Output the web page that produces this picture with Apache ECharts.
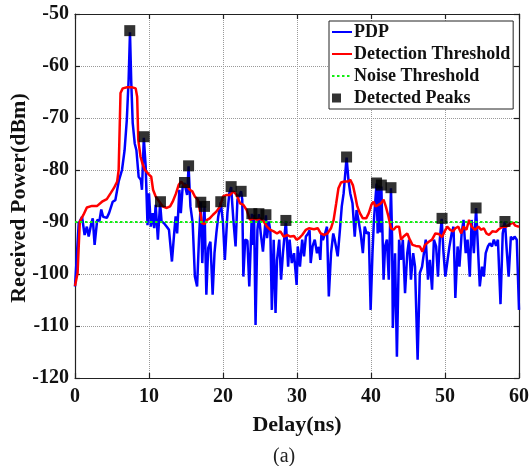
<!DOCTYPE html>
<html>
<head>
<meta charset="utf-8">
<script src="https://cdn.jsdelivr.net/npm/echarts@6/dist/echarts.min.js"></script>
<style>
html,body{margin:0;padding:0;background:#fff;}
#c{width:531px;height:466px;}
</style>
</head>
<body>
<div id="c"></div>
<script>
// ---- Data ----
const pdpDelay = [0,0.5,0.95,1.3,1.6,1.85,2.2,2.4,2.65,3.0,3.3,3.55,3.8,4.3,4.6,5.1,5.45,5.9,6.35,6.7,7.0,7.25,7.43,7.6,7.8,8.07,8.3,8.6,8.9,9.05,9.3,9.55,9.8,10.0,10.25,10.5,10.7,10.9,11.2,11.5,11.7,12.0,12.4,12.7,13.1,13.4,13.6,13.8,14.1,14.3,14.55,14.8,15.15,15.35,15.6,15.9,16.2,16.5,16.75,17.0,17.2,17.5,17.75,18.0,18.3,18.6,18.85,19.1,19.35,19.7,20.0,20.25,20.6,20.85,21.1,21.4,21.7,21.95,22.45,22.6,22.75,23.0,23.3,23.55,23.9,24.05,24.2,24.4,24.65,24.85,25.1,25.4,25.8,25.95,26.2,26.4,26.6,26.85,27.1,27.3,27.6,27.85,28.1,28.5,28.8,29.0,29.3,29.6,29.95,30.1,30.4,30.7,30.95,31.2,31.5,31.7,31.85,32.1,32.4,32.7,32.95,33.15,33.3,33.5,33.8,34.05,34.3,34.6,34.9,35.1,35.5,35.8,36.05,36.3,36.7,36.95,37.2,37.5,37.8,38.05,38.3,38.6,38.9,39.15,39.4,39.7,39.95,40.2,40.4,40.75,40.9,41.1,41.25,41.4,41.7,41.9,42.15,42.4,42.7,42.85,42.95,43.25,43.5,43.8,44.05,44.3,44.6,44.9,45.15,45.4,45.7,45.95,46.3,46.6,46.9,47.15,47.4,47.7,47.95,48.25,48.5,48.8,49.05,49.3,49.55,49.8,50.05,50.35,50.6,50.9,51.15,51.4,51.7,51.95,52.25,52.5,52.8,53.05,53.35,53.6,53.9,54.2,54.4,54.7,55.0,55.25,55.5,55.8,56.05,56.35,56.6,56.9,57.15,57.5,57.8,58.1,58.35,58.6,58.9,59.15,59.4,59.7,60.0];
const pdpPower = [-102.4,-90.3,-89.0,-92.5,-90.9,-92.8,-90.3,-89.3,-94.4,-89.6,-89.8,-87.6,-89.0,-89.2,-88.3,-86.1,-85.8,-82.2,-80.0,-76.2,-70.4,-62.5,-53.5,-63.0,-71.0,-74.9,-76.2,-81.3,-81.9,-83.8,-73.8,-79.3,-90.6,-84.5,-90.9,-88.3,-91.2,-86.7,-93.4,-86.3,-89.9,-90.2,-90.9,-91.5,-97.6,-92.2,-88.9,-92.2,-83.8,-88.3,-83.2,-82.5,-84.8,-79.3,-87.0,-90.2,-100.5,-102.4,-93.4,-86.2,-97.9,-87.0,-104.0,-95.0,-93.8,-104.0,-96.0,-92.2,-89.0,-86.2,-90.2,-97.3,-88.3,-84.5,-83.3,-89.6,-94.7,-85.7,-84.1,-85.7,-100.5,-93.4,-93.6,-102.4,-88.4,-94.4,-88.6,-109.8,-91.5,-88.5,-92.2,-95.7,-88.7,-93.1,-89.9,-91.8,-106.9,-93.4,-107.5,-97.3,-93.4,-101.1,-96.0,-89.8,-98.6,-93.4,-97.9,-96.0,-102.1,-94.7,-98.6,-93.4,-96.6,-92.8,-92.2,-91.6,-97.9,-94.7,-93.4,-96.0,-94.8,-97.3,-92.2,-93.5,-92.2,-90.9,-104.3,-96.0,-92.2,-93.4,-96.6,-91.5,-87.0,-84.5,-77.6,-81.9,-84.5,-86.4,-92.8,-87.7,-89.6,-92.2,-96.0,-90.9,-92.2,-92.0,-106.9,-96.0,-89.6,-82.6,-92.2,-83.0,-92.0,-83.2,-101.1,-94.7,-93.4,-101.1,-83.5,-93.0,-110.4,-96.0,-115.9,-93.4,-97.3,-93.4,-103.7,-96.0,-93.4,-101.1,-96.0,-98.6,-116.5,-99.8,-98.6,-96.0,-93.4,-101.1,-97.3,-103.0,-93.4,-94.7,-100.5,-93.4,-89.4,-96.0,-100.5,-97.3,-94.7,-92.2,-90.9,-104.6,-94.7,-98.6,-92.2,-89.6,-96.0,-93.4,-100.5,-89.6,-96.0,-87.3,-93.4,-102.4,-98.6,-100.5,-96.0,-94.7,-94.1,-94.7,-93.4,-94.6,-93.4,-105.8,-92.2,-89.9,-95.6,-100.5,-92.8,-93.4,-92.8,-93.4,-106.9];

const thrDelay = [0,0.35,0.65,1.15,1.6,2.3,3.0,3.65,4.3,4.8,5.25,5.7,5.9,6.15,6.45,7.05,7.75,8.2,8.4,8.55,8.85,9.1,9.45,10.0,10.3,10.55,10.9,11.4,11.85,12.4,12.85,13.2,13.65,14.0,14.35,14.8,15.1,15.5,15.85,16.2,16.6,16.95,17.15,17.5,17.85,18.2,18.65,19.1,19.6,20.0,20.5,20.95,21.4,21.85,22.3,22.75,23.2,23.65,24.1,24.6,25.05,25.5,25.95,26.4,26.85,27.3,27.75,28.2,28.7,29.1,29.6,29.95,30.3,30.7,31.2,31.6,32.3,32.8,33.2,33.7,34.1,34.6,34.95,35.3,35.6,35.95,36.4,36.9,37.2,37.55,37.8,38.15,38.5,38.9,39.35,39.7,40.05,40.35,40.6,41.0,41.35,41.7,42.0,42.35,42.7,43.05,43.4,43.8,44.05,44.4,44.9,45.25,45.6,46.05,46.6,46.95,47.3,47.8,48.25,48.7,49.15,49.6,49.95,50.3,50.7,51.1,51.4,51.8,52.2,52.5,52.9,53.25,53.6,54.05,54.5,54.9,55.25,55.6,55.95,56.4,56.9,57.25,57.8,58.25,58.7,59.15,59.5,60.0];
const thrPower = [-102.3,-99.8,-89.9,-88.6,-87.2,-86.9,-86.9,-86.1,-85.6,-84.5,-83.5,-82.2,-80.0,-65.2,-64.3,-64.1,-64.1,-64.3,-65.9,-74.2,-77.4,-78.7,-80.0,-80.9,-81.3,-83.8,-85.1,-86.1,-87.0,-87.3,-87.0,-86.1,-84.5,-82.9,-82.2,-83.2,-82.9,-83.8,-84.1,-85.1,-85.7,-88.3,-90.2,-90.4,-89.6,-89.3,-88.6,-88.0,-87.0,-85.1,-84.8,-84.8,-84.1,-84.8,-86.4,-86.7,-87.7,-89.6,-89.3,-89.6,-89.3,-89.9,-90.9,-91.5,-91.8,-92.2,-91.8,-92.8,-92.5,-92.8,-92.7,-93.4,-93.1,-92.5,-91.5,-91.2,-91.4,-91.2,-92.2,-92.5,-92.2,-91.2,-89.6,-86.4,-83.5,-82.4,-82.2,-82.2,-81.9,-82.9,-84.5,-87.0,-88.3,-89.3,-89.3,-88.3,-86.7,-86.1,-87.0,-86.7,-86.4,-85.7,-87.0,-88.9,-91.2,-91.5,-90.9,-90.9,-93.4,-92.8,-92.2,-93.4,-94.4,-94.6,-94.7,-95.7,-94.4,-93.8,-93.4,-92.2,-92.3,-92.9,-91.8,-90.9,-91.5,-91.8,-91.2,-90.9,-92.2,-90.9,-91.5,-89.6,-90.9,-91.5,-90.9,-91.5,-91.2,-92.2,-92.5,-91.8,-91.9,-91.4,-90.9,-90.9,-90.5,-90.1,-90.7,-90.9];

const noiseDelay = [0, 60];
const noisePower = [-90, -90];

const peakDelay = [7.4,9.35,11.55,14.8,15.35,17.0,17.5,19.7,21.1,22.45,23.9,24.85,25.8,28.5,36.7,40.75,41.4,42.7,49.6,54.2,58.1];
const peakPower = [-53.2,-73.6,-86.1,-82.4,-79.2,-86.2,-87.0,-86.1,-83.2,-84.1,-88.4,-88.4,-88.6,-89.7,-77.5,-82.5,-82.9,-83.4,-89.3,-87.3,-89.9];

const xTicks = {min: 0, max: 60, interval: 10};
const yTicks = {min: -120, max: -50, interval: 10};

const seriesNames = ['PDP', 'Detection Threshold', 'Noise Threshold', 'Detected Peaks'];
const xLabel = 'Delay(ns)';
const yLabel = 'Received Power(dBm)';
const caption = '(a)';

// ---- Build ----
const zip = (a, b) => a.map((v, i) => [v, b[i]]);
const FONT = '"Liberation Serif", "Times New Roman", Times, serif';

const chart = echarts.init(document.getElementById('c'), null, {renderer: 'canvas'});

const axisLineStyle = {color: '#222', width: 1.2};
const baseX = {
  type: 'value', min: xTicks.min, max: xTicks.max, interval: xTicks.interval,
  axisLine: {show: true, onZero: false, lineStyle: axisLineStyle},
  axisTick: {show: true, inside: true, length: 5, lineStyle: axisLineStyle}
};
const baseY = {
  type: 'value', min: yTicks.min, max: yTicks.max, interval: yTicks.interval,
  axisLine: {show: true, onZero: false, lineStyle: axisLineStyle},
  axisTick: {show: true, inside: true, length: 5, lineStyle: axisLineStyle}
};

const hideSym = {opacity: 0};

chart.setOption({
  animation: false,
  backgroundColor: '#fff',
  grid: {left: 75, right: 12, top: 14, bottom: 88, containLabel: false, outerBoundsMode: 'none'},
  xAxis: [
    Object.assign({}, baseX, {
      position: 'bottom',
      name: xLabel, nameLocation: 'middle', nameGap: 36,
      nameTextStyle: {fontFamily: FONT, fontWeight: 'bold', fontSize: 22, color: '#111'},
      axisLabel: {fontFamily: FONT, fontWeight: 'bold', fontSize: 20, color: '#111', margin: 9},
      splitLine: {show: true, lineStyle: {type: 'dotted', color: '#999', width: 1}}
    }),
    Object.assign({}, baseX, {
      position: 'top', axisLabel: {show: false}, splitLine: {show: false}
    })
  ],
  yAxis: [
    Object.assign({}, baseY, {
      position: 'left',
      axisLabel: {fontFamily: FONT, fontWeight: 'bold', fontSize: 20, color: '#111', margin: 6},
      splitLine: {show: true, lineStyle: {type: 'dotted', color: '#999', width: 1}}
    }),
    Object.assign({}, baseY, {
      position: 'right', axisLabel: {show: false}, splitLine: {show: false}
    })
  ],
  legend: {
    orient: 'vertical',
    left: 329, top: 21,
    padding: [2, 3, 2, 2],
    itemWidth: 20, itemHeight: 9, itemGap: 4,
    borderColor: '#222', borderWidth: 1, backgroundColor: '#fff',
    textStyle: {fontFamily: FONT, fontWeight: 'bold', fontSize: 18, color: '#111', padding: [0, 0, 0, -3]},
    data: [
      {name: seriesNames[0], itemStyle: hideSym},
      {name: seriesNames[1], itemStyle: hideSym},
      {name: seriesNames[2], itemStyle: hideSym},
      {name: seriesNames[3]}
    ]
  },
  graphic: [
    {
      type: 'text', x: 19, y: 198, rotation: Math.PI / 2,
      style: {text: yLabel, font: 'bold 22px ' + FONT, fill: '#111', align: 'center', verticalAlign: 'middle'}
    },
    {
      type: 'text', left: 273, top: 447,
      style: {text: caption, font: '20px ' + FONT, fill: '#222'}
    }
  ],
  series: [
    {
      name: seriesNames[0], type: 'line', data: zip(pdpDelay, pdpPower),
      symbol: 'none', lineStyle: {color: '#0000ff', width: 2.5}, itemStyle: {color: '#0000ff'}, z: 2
    },
    {
      name: seriesNames[1], type: 'line', data: zip(thrDelay, thrPower),
      symbol: 'none', lineStyle: {color: '#ff0000', width: 2.5}, itemStyle: {color: '#ff0000'}, z: 3
    },
    {
      name: seriesNames[2], type: 'line', data: zip(noiseDelay, noisePower),
      symbol: 'none', lineStyle: {color: '#11ee11', width: 2.2, type: [2.5, 2.5]}, itemStyle: {color: '#11ee11'}, z: 4
    },
    {
      name: seriesNames[3], type: 'scatter', data: zip(peakDelay, peakPower),
      symbol: 'square', symbolSize: 11, itemStyle: {color: '#000'}, z: 5
    }
  ]
});
</script>
</body>
</html>
